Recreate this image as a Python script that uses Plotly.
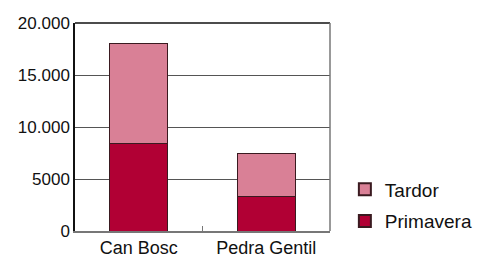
import plotly.graph_objects as go

categories = ["Can Bosc", "Pedra Gentil"]
primavera = [8400, 3350]
tardor = [9600, 4100]
tick_vals = [0, 5000, 10000, 15000, 20000]
tick_text = ["0", "5000", "10.000", "15.000", "20.000"]

fig = go.Figure()
fig.add_trace(go.Bar(name="Primavera", x=categories, y=primavera, legendgroup="p",
                     legendrank=2,
                     marker=dict(color="#b10034", line=dict(color="#3a1a20", width=1)),
                     width=0.455))
fig.add_trace(go.Bar(name="Tardor", x=categories, y=tardor, legendgroup="t",
                     legendrank=1,
                     marker=dict(color="#d98096", line=dict(color="#3a1a20", width=1)),
                     width=0.455))

fig.update_layout(
    barmode="stack",
    width=477, height=259,
    margin=dict(l=75, r=147, t=23, b=28, pad=0, autoexpand=False),
    paper_bgcolor="white", plot_bgcolor="white",
    font=dict(family="Liberation Sans, Arial, sans-serif", size=17, color="#111"),
    showlegend=True,
    legend=dict(traceorder="grouped", tracegroupgap=4,
                xref="container", yref="container",
                x=0.723, xanchor="left", y=0.342, yanchor="top",
                font=dict(size=19), itemsizing="constant",
                bgcolor="rgba(0,0,0,0)"),
)
fig.update_xaxes(
    automargin=False,
    showline=True, linecolor="#777", linewidth=1.5,
    tickson="boundaries", ticks="inside", ticklen=5, tickcolor="#777",
    showgrid=False, tickfont=dict(size=18, color="#111"),
)
fig.update_yaxes(
    automargin=False,
    range=[0, 20000], tickvals=tick_vals, ticktext=tick_text,
    showgrid=True, gridcolor="#555", gridwidth=1,
    showline=True, linecolor="#111", linewidth=1.5,
    ticks="", ticklen=0, zeroline=False,
    tickfont=dict(size=17, color="#111"),
)
fig.add_shape(type="line", xref="paper", yref="paper", x0=0, x1=1, y0=1, y1=1,
              line=dict(color="#111", width=1.5))
fig.add_shape(type="line", xref="paper", yref="paper", x0=1, x1=1, y0=0, y1=1,
              line=dict(color="#777", width=1.5))

fig.write_html(
    "out.html",
    config={"displayModeBar": False},
    post_script=("document.body.style.margin='0';"
                 "document.body.style.overflow='hidden';"
                 "document.documentElement.style.overflow='hidden';"),
)
